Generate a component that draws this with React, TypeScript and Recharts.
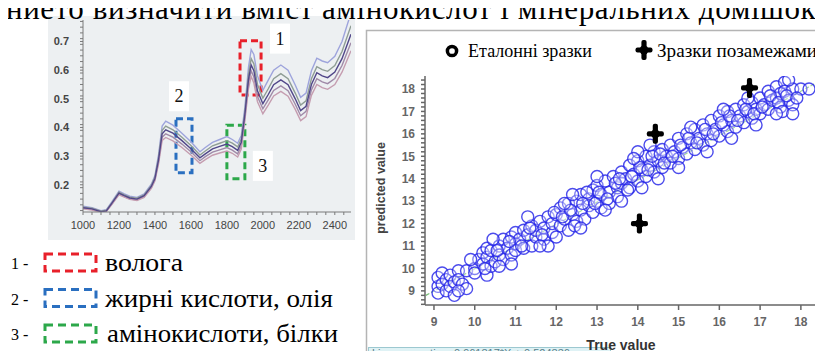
import React from 'react';
import {
  LineChart, Line, XAxis, YAxis, ReferenceArea, ReferenceDot,
  ScatterChart, Scatter, ReferenceLine,
} from 'recharts';

// ---------- Left: NIR spectra ----------
const wavelengths = [1000, 1050, 1100, 1130, 1160, 1200, 1230, 1260, 1300, 1340, 1380, 1400, 1420, 1440, 1460, 1500, 1550, 1600, 1650, 1680, 1720, 1760, 1800, 1830, 1860, 1880, 1900, 1920, 1935, 1950, 1970, 2000, 2030, 2060, 2100, 2140, 2180, 2210, 2240, 2270, 2300, 2330, 2360, 2400, 2440, 2490];
const spectrum1 = [0.125, 0.120, 0.110, 0.113, 0.140, 0.178, 0.168, 0.160, 0.156, 0.168, 0.202, 0.232, 0.305, 0.405, 0.422, 0.408, 0.380, 0.350, 0.315, 0.330, 0.348, 0.358, 0.368, 0.358, 0.345, 0.372, 0.470, 0.610, 0.672, 0.655, 0.580, 0.530, 0.565, 0.600, 0.618, 0.600, 0.548, 0.505, 0.520, 0.598, 0.642, 0.632, 0.626, 0.648, 0.700, 0.800];
const spectrum2 = [0.122, 0.118, 0.108, 0.111, 0.137, 0.174, 0.165, 0.157, 0.153, 0.165, 0.198, 0.227, 0.295, 0.390, 0.405, 0.392, 0.366, 0.337, 0.304, 0.318, 0.336, 0.345, 0.354, 0.345, 0.332, 0.360, 0.455, 0.585, 0.640, 0.622, 0.550, 0.502, 0.535, 0.570, 0.588, 0.570, 0.520, 0.478, 0.493, 0.570, 0.612, 0.602, 0.596, 0.616, 0.665, 0.755];
const spectrum3 = [0.120, 0.116, 0.106, 0.109, 0.135, 0.171, 0.162, 0.154, 0.150, 0.162, 0.194, 0.222, 0.287, 0.378, 0.392, 0.380, 0.354, 0.326, 0.294, 0.308, 0.325, 0.334, 0.342, 0.333, 0.320, 0.348, 0.445, 0.568, 0.618, 0.598, 0.528, 0.483, 0.515, 0.549, 0.566, 0.549, 0.500, 0.459, 0.474, 0.550, 0.591, 0.580, 0.574, 0.593, 0.640, 0.725];
const spectrum4 = [0.118, 0.114, 0.105, 0.108, 0.133, 0.168, 0.159, 0.151, 0.147, 0.159, 0.190, 0.218, 0.280, 0.366, 0.378, 0.366, 0.342, 0.315, 0.284, 0.298, 0.314, 0.322, 0.330, 0.321, 0.308, 0.336, 0.435, 0.552, 0.598, 0.576, 0.508, 0.465, 0.496, 0.529, 0.545, 0.528, 0.481, 0.441, 0.456, 0.531, 0.570, 0.559, 0.553, 0.571, 0.616, 0.696];
const spectrum5 = [0.116, 0.112, 0.104, 0.107, 0.131, 0.165, 0.157, 0.149, 0.145, 0.156, 0.187, 0.214, 0.273, 0.355, 0.365, 0.353, 0.330, 0.304, 0.275, 0.288, 0.303, 0.311, 0.318, 0.310, 0.297, 0.325, 0.425, 0.536, 0.578, 0.555, 0.490, 0.448, 0.478, 0.510, 0.526, 0.509, 0.463, 0.424, 0.438, 0.512, 0.550, 0.539, 0.533, 0.550, 0.593, 0.668];
const spectrumColors = ['#9ea4dc', '#8f9d95', '#c59db0', '#a08aa8', '#514789'];

const wavelengthTicks = [1000, 1200, 1400, 1600, 1800, 2000, 2200, 2400];
const absorbanceTicks = [0.2, 0.3, 0.4, 0.5, 0.6, 0.7];

// regions: [x1, x2, y1, y2]
const regionNames = ['1', '2', '3'];
const regionBoxes = [[1873, 1990, 0.513, 0.703], [1517, 1606, 0.242, 0.43], [1800, 1900, 0.221, 0.408]];
const regionLabelPos = [[2095, 0.71], [1534, 0.509], [2000, 0.266]];
const regionColors = ['#e8202a', '#2a6fc0', '#2ca84a'];
const legendTexts = ['волога', 'жирні кислоти, олія', 'амінокислоти, білки'];

const spectraData = wavelengths.map((w, i) => ({
  w, s1: spectrum1[i], s2: spectrum2[i], s3: spectrum3[i], s4: spectrum4[i], s5: spectrum5[i],
}));

const minorX: number[] = [];
for (let v = 1000; v <= 2480; v += 50) minorX.push(v);
const minorY: number[] = [];
for (let k = 11; k <= 77; k += 2) minorY.push(k / 100);

// ---------- Right: predicted vs true ----------
const referenceSamples: [number, number][] = [
  [9.1, 9.2], [9.1, 9.6], [9.1, 8.9], [9.2, 9.8], [9.2, 9.3], [9.3, 9.0], [9.3, 9.5], [9.4, 9.7], [9.4, 9.2],
  [9.5, 8.8], [9.5, 9.4], [9.6, 9.9], [9.6, 9.5], [9.7, 9.3], [9.8, 9.9], [9.8, 9.1], [10.0, 10.0], [10.0, 9.8],
  [10.1, 10.4], [10.2, 10.7], [10.2, 10.2], [10.3, 10.5], [10.3, 9.7], [10.3, 10.9], [10.4, 10.1], [10.4, 10.8],
  [10.5, 10.3], [10.6, 11.0], [10.6, 10.6], [10.7, 10.4], [10.7, 11.3], [10.8, 10.9], [10.9, 10.6], [10.9, 11.4],
  [11.0, 11.1], [11.0, 10.8], [11.0, 11.6], [11.1, 11.3], [11.2, 10.9], [11.2, 11.7], [11.3, 11.5], [11.4, 11.0],
  [11.4, 11.9], [11.5, 11.4], [11.5, 11.7], [11.6, 12.1], [11.7, 11.3], [11.7, 11.8], [11.8, 12.3], [11.9, 11.6],
  [11.9, 12.0], [12.0, 12.4], [12.0, 11.4], [12.1, 11.9], [12.1, 12.7], [12.2, 12.2], [12.3, 12.9], [12.3, 11.7],
  [12.4, 12.4], [12.5, 12.1], [12.5, 13.0], [12.6, 12.6], [12.6, 13.3], [12.7, 12.2], [12.8, 13.1], [12.8, 12.8],
  [12.9, 13.5], [12.9, 12.5], [13.0, 13.0], [13.0, 13.7], [13.1, 12.7], [13.1, 13.3], [13.2, 13.9], [13.3, 13.4],
  [13.3, 12.9], [13.4, 14.1], [13.5, 13.6], [13.5, 13.2], [13.6, 14.3], [13.6, 13.8], [13.7, 14.0], [13.8, 14.6],
  [13.8, 13.6], [13.9, 14.2], [14.0, 14.8], [14.0, 13.9], [14.1, 14.4], [14.2, 15.0], [14.2, 14.1], [14.3, 14.6],
  [14.4, 15.2], [14.4, 14.3], [14.5, 14.8], [14.6, 15.3], [14.6, 14.5], [14.7, 15.0], [14.8, 14.7], [14.8, 15.5],
  [14.9, 15.2], [15.0, 15.8], [15.0, 14.9], [15.1, 15.4], [15.2, 16.0], [15.2, 15.1], [15.3, 15.6], [15.4, 16.2],
  [15.4, 15.3], [15.5, 15.8], [15.6, 16.4], [15.6, 15.5], [15.7, 16.0], [15.8, 16.6], [15.8, 15.7], [15.9, 16.2],
  [16.0, 16.8], [16.0, 15.9], [16.1, 16.4], [16.2, 17.0], [16.2, 16.1], [16.3, 16.6], [16.4, 17.1], [16.4, 16.3],
  [16.5, 16.8], [16.6, 17.3], [16.6, 16.5], [16.7, 17.0], [16.8, 17.4], [16.8, 16.7], [16.9, 17.1], [17.0, 17.6],
  [17.0, 16.9], [17.1, 17.3], [17.2, 17.9], [17.2, 17.1], [17.3, 17.5], [17.4, 18.1], [17.4, 17.6], [17.5, 17.8],
  [17.5, 17.2], [17.6, 18.3], [17.6, 17.9], [17.7, 17.5], [17.8, 18.0], [17.8, 17.3], [18.0, 18.0],
  [10.25, 10.0], [10.55, 10.8], [10.85, 11.2], [11.15, 11.0], [11.35, 11.8], [11.65, 11.5], [11.95, 12.5],
  [12.15, 12.3], [12.35, 12.6], [12.45, 11.9], [12.65, 12.9], [12.75, 13.4], [12.95, 12.9], [13.05, 13.4],
  [13.25, 13.1], [13.45, 13.8], [13.55, 14.0], [13.75, 13.5], [13.85, 14.1], [14.05, 14.5], [14.25, 14.4],
  [14.35, 15.0], [14.55, 15.1], [14.65, 14.7], [14.85, 15.0], [15.05, 15.5], [15.25, 15.8], [15.45, 15.6],
  [15.65, 16.2], [15.85, 16.0], [16.05, 16.5], [16.25, 16.8], [16.45, 16.6], [16.65, 17.1], [16.85, 16.9],
  [17.05, 17.2], [17.25, 17.7], [17.45, 17.4], [17.65, 17.7], [17.9, 17.6], [17.55, 17.0], [18.2, 18.0],
  [10.45, 11.3], [10.9, 10.2], [11.3, 12.3], [11.8, 11.0], [12.2, 12.9], [12.6, 11.8], [13.2, 12.6], [13.0, 14.1],
  [13.6, 13.0], [14.1, 13.6], [14.0, 15.2], [14.5, 14.0], [14.3, 15.5], [15.0, 14.5], [15.3, 16.3], [15.7, 15.2],
  [16.1, 17.1], [16.3, 15.8], [16.9, 16.4], [16.7, 17.6], [17.4, 16.9], [17.7, 18.4], [17.8, 16.9], [9.6, 9.0],
  [9.9, 10.4], [10.6, 10.1], [12.4, 13.3], [11.6, 11.0], [13.9, 14.9],
];
const outlierSamples: [number, number][] = [[14.43, 16.0], [16.74, 18.05], [14.04, 12.0]];
const fitLineEnds = [[8.8, 8.8], [18.4, 18.3]];
const trueTicks = [9, 10, 11, 12, 13, 14, 15, 16, 17, 18];
const predTicks = [9, 10, 11, 12, 13, 14, 15, 16, 17, 18];
const minorPred: number[] = [];
for (let k = 42; k <= 92; k += 1) minorPred.push(k / 5);

const refData = referenceSamples.map(([x, y]) => ({ x, y }));
const outData = outlierSamples.map(([x, y]) => ({ x, y }));

const serif = 'Liberation Serif';
const sans = 'Liberation Sans';

const CrossShape = (p: any) => {
  const { cx, cy } = p;
  return (
    <g fill="#000">
      <rect x={cx - 2.6} y={cy - 10} width={5.2} height={20} rx={2} />
      <rect x={cx - 8.5} y={cy - 2.6} width={17} height={5.2} rx={2} />
      <circle cx={cx} cy={cy} r={4.5} />
    </g>
  );
};

const RingShape = (p: any) => (
  <circle cx={p.cx} cy={p.cy} r={6} fill="#ffffff" fillOpacity={0.3} stroke="#2424e8" strokeOpacity={0.82} strokeWidth={1.4} />
);

const isMajorW = (v: number) => wavelengthTicks.includes(v);
const isMajorA = (v: number) => absorbanceTicks.some((t) => Math.abs(t - v) < 1e-6);

const legendWidths = [78, 228, 231];

export default function App() {
  return (
    <div style={{ position: 'relative', width: 823, height: 351, background: '#fff', overflow: 'hidden', fontFamily: serif }}>
      {/* left chart background */}
      <div style={{ position: 'absolute', left: 40, top: 8, width: 307, height: 224, background: '#edf0f2' }} />
      <div style={{ position: 'absolute', left: 40, top: 0 }}>
        <LineChart width={310} height={232} data={spectraData} margin={{ top: 12, right: 7, left: 0, bottom: 4 }}>
          <XAxis dataKey="w" type="number" domain={[1000, 2490]} ticks={minorX} interval={0}
            tickFormatter={(v: number) => (isMajorW(v) ? String(v) : '')} height={24} tickSize={3} tickMargin={6}
            stroke="#7a7a7a" tick={{ fontSize: 11, fill: '#444', fontFamily: sans }} allowDataOverflow />
          <YAxis type="number" domain={[0.105, 0.775]} ticks={minorY.concat(absorbanceTicks)} interval={0}
            tickFormatter={(v: number) => (isMajorA(v) ? v.toFixed(1) : '')} width={35} tickSize={3} tickMargin={11}
            stroke="#7a7a7a" tick={{ fontSize: 11, fill: '#444', fontFamily: sans, fontWeight: 'bold' }} allowDataOverflow />
          <Line dataKey="s1" stroke={spectrumColors[0]} strokeWidth={1.4} dot={false} isAnimationActive={false} />
          <Line dataKey="s2" stroke={spectrumColors[1]} strokeWidth={1.4} dot={false} isAnimationActive={false} />
          <Line dataKey="s4" stroke={spectrumColors[3]} strokeWidth={1.4} dot={false} isAnimationActive={false} />
          <Line dataKey="s5" stroke={spectrumColors[2]} strokeWidth={1.4} dot={false} isAnimationActive={false} />
          <Line dataKey="s3" stroke={spectrumColors[4]} strokeWidth={1.4} dot={false} isAnimationActive={false} />
          {regionBoxes.map((b, i) => (
            <ReferenceArea key={'ra' + i} x1={b[0]} x2={b[1]} y1={b[2]} y2={b[3]} fill="none" fillOpacity={0}
              stroke={regionColors[i]} strokeWidth={3} strokeDasharray="7 4" ifOverflow="visible" />
          ))}
          {regionLabelPos.map((p, i) => (
            <ReferenceDot key={'rd' + i} x={p[0]} y={p[1]} r={0} ifOverflow="visible"
              shape={(sp: any) => (
                <g>
                  <rect x={sp.cx - 10} y={sp.cy - 15} width={20} height={30} fill="#ffffff" />
                  <text x={sp.cx} y={sp.cy + 6} textAnchor="middle" fontSize={18} fontFamily={serif} fill="#111">{regionNames[i]}</text>
                </g>
              )} />
          ))}
        </LineChart>
      </div>

      {/* right chart */}
      <div style={{ position: 'absolute', left: 358, top: 20 }}>
        <ScatterChart width={465} height={331} margin={{ top: 48, right: 13, left: 0, bottom: 24 }}>
          <XAxis xAxisId={0} dataKey="x" type="number" domain={[8.78, 18.42]} ticks={trueTicks} interval={0}
            height={30} tickSize={5} tickMargin={7} stroke="#666" strokeWidth={1.5}
            tick={{ fontSize: 12, fill: '#666', fontFamily: sans, fontWeight: 'bold' }} allowDataOverflow />
          <XAxis xAxisId="top" orientation="top" dataKey="x" type="number" domain={[8.78, 18.42]} ticks={trueTicks}
            interval={0} height={0} tickSize={4} tickFormatter={() => ''} stroke="#888" allowDataOverflow />
          <YAxis yAxisId={0} dataKey="y" type="number" domain={[8.37, 18.58]} ticks={minorPred} interval={0}
            tickFormatter={(v: number) => (predTicks.includes(v) ? String(v) : '')} width={59} tickSize={4} tickMargin={6}
            stroke="#666" strokeWidth={1.5} tick={{ fontSize: 12, fill: '#666', fontFamily: sans, fontWeight: 'bold' }} allowDataOverflow />
          <YAxis yAxisId="right" orientation="right" dataKey="y" type="number" domain={[8.37, 18.58]} ticks={predTicks}
            interval={0} width={0} tickSize={4} tickFormatter={() => ''} stroke="#888" allowDataOverflow />
          <Scatter data={refData} shape={RingShape} isAnimationActive={false} />
          <ReferenceLine segment={[{ x: fitLineEnds[0][0], y: fitLineEnds[0][1] }, { x: fitLineEnds[1][0], y: fitLineEnds[1][1] }]}
            stroke="#78c078" strokeWidth={1.2} strokeDasharray="4 2" ifOverflow="visible" />
          <Scatter data={outData} shape={CrossShape} isAnimationActive={false} />
        </ScatterChart>
      </div>

      <svg width={823} height={351} style={{ position: 'absolute', left: 0, top: 0, pointerEvents: 'none' }}>
        {/* top sentence (cut) */}
        <text x={-2} y={11} fontSize={31} fontFamily={serif} fill="#000" textLength={818} lengthAdjust="spacing">
          нието визначити вміст амінокислот і мінеральних домішок.
        </text>
        {/* left legend */}
        {legendTexts.map((t, i) => {
          const top = 246 + i * 35.5;
          return (
            <g key={'lg' + i}>
              <text x={3} y={top + 15} fontSize={16} fontFamily={serif} fill="#000">{regionNames[i]} -</text>
              <rect x={37} y={top} width={51} height={17} fill="none" stroke={regionColors[i]} strokeWidth={3} strokeDasharray="8 5" />
              <text x={97 + (i === 2 ? 2 : 0)} y={top + 17} fontSize={25} fontFamily={serif} fill="#000"
                textLength={legendWidths[i]} lengthAdjust="spacingAndGlyphs">{t}</text>
            </g>
          );
        })}
        {/* right panel frame */}
        <rect x={358.5} y={22.5} width={470} height={340} fill="none" stroke="#b4b4b4" strokeWidth={1.5} />
        {/* right legend */}
        <circle cx={444} cy={43} r={4.6} fill="none" stroke="#000" strokeWidth={3.5} />
        <text x={460} y={49} fontSize={18} fontFamily={serif} fill="#000" textLength={124} lengthAdjust="spacingAndGlyphs">Еталонні зразки</text>
        <CrossShape cx={636} cy={42} />
        <text x={649} y={49} fontSize={18} fontFamily={serif} fill="#000" textLength={160} lengthAdjust="spacingAndGlyphs">Зразки позамежами</text>
        {/* equation box */}
        <rect x={360.5} y={339.5} width={242} height={14} fill="#dff2f5" stroke="#9cc8d0" />
        <text x={364} y={349} fontSize={11} fontFamily={sans} fill="#5a7f8a">Linear equation: 0.961817*X + 0.524836</text>
        {/* axis titles */}
        <text x={613} y={342} textAnchor="middle" fontSize={14} fontWeight="bold" fontFamily={sans} fill="#333">True value</text>
        <text x={0} y={0} transform="translate(377,180) rotate(-90)" textAnchor="middle" fontSize={12.5} fontWeight="bold" fontFamily={sans} fill="#444">predicted value</text>
      </svg>
    </div>
  );
}
